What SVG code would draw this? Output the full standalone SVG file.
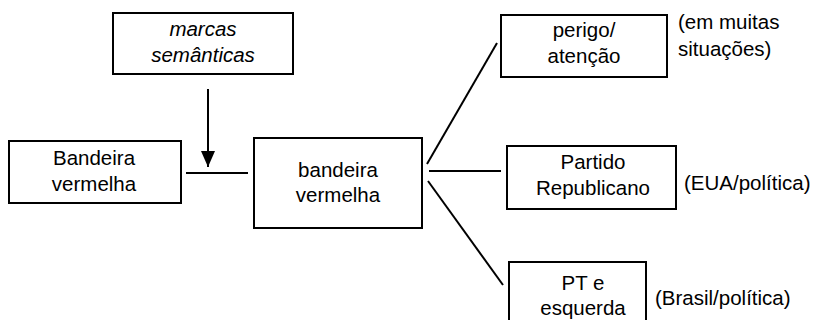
<svg xmlns="http://www.w3.org/2000/svg" width="816" height="320" viewBox="0 0 816 320">
<style>
rect{fill:#fff;stroke:#000;stroke-width:2}
text{font-family:"Liberation Sans",Arial,sans-serif;font-size:20.5px;fill:#000}
.c{text-anchor:middle}
.i{font-style:italic}
#connectors line{stroke:#000;stroke-width:2}
</style>
<defs>
<marker id="ah" markerWidth="16" markerHeight="14" refX="16" refY="7" orient="auto" markerUnits="userSpaceOnUse">
<path d="M0,0 L16,7 L0,14 Z" fill="#000"/>
</marker>
</defs>
<rect width="816" height="320" style="fill:#fff;stroke:none"/>
<g id="connectors">
<line x1="208" y1="89" x2="208" y2="167" marker-end="url(#ah)"/>
<line x1="186" y1="173" x2="248" y2="173"/>
<line x1="427" y1="164" x2="497" y2="43"/>
<line x1="429" y1="171" x2="501" y2="171"/>
<line x1="428" y1="181" x2="503" y2="285"/>
</g>
<g id="marcas">
<rect x="113" y="13" width="180" height="61"/>
<text class="c i" x="203" y="36">marcas</text>
<text class="c i" x="203" y="62">semânticas</text>
</g>
<g id="bandeira1">
<rect x="9" y="141" width="172" height="62"/>
<text class="c" x="94" y="165">Bandeira</text>
<text class="c" x="94" y="191">vermelha</text>
</g>
<g id="bandeira2">
<rect x="254" y="138" width="168" height="90"/>
<text class="c" x="338" y="177">bandeira</text>
<text class="c" x="338" y="202">vermelha</text>
</g>
<g id="perigo">
<rect x="501" y="15" width="166" height="62"/>
<text class="c" x="584" y="37">perigo/</text>
<text class="c" x="584" y="63">atenção</text>
</g>
<g id="partido">
<rect x="507" y="146" width="169" height="63"/>
<text class="c" x="593" y="169">Partido</text>
<text class="c" x="593" y="195">Republicano</text>
</g>
<g id="pt">
<rect x="509" y="262" width="137" height="70"/>
<text class="c" x="583" y="290">PT e</text>
<text class="c" x="583" y="315">esquerda</text>
</g>
<g id="notes">
<text x="678" y="29">(em muitas</text>
<text x="678" y="56">situações)</text>
<text x="684" y="190">(EUA/política)</text>
<text x="655" y="305">(Brasil/política)</text>
</g>
</svg>
